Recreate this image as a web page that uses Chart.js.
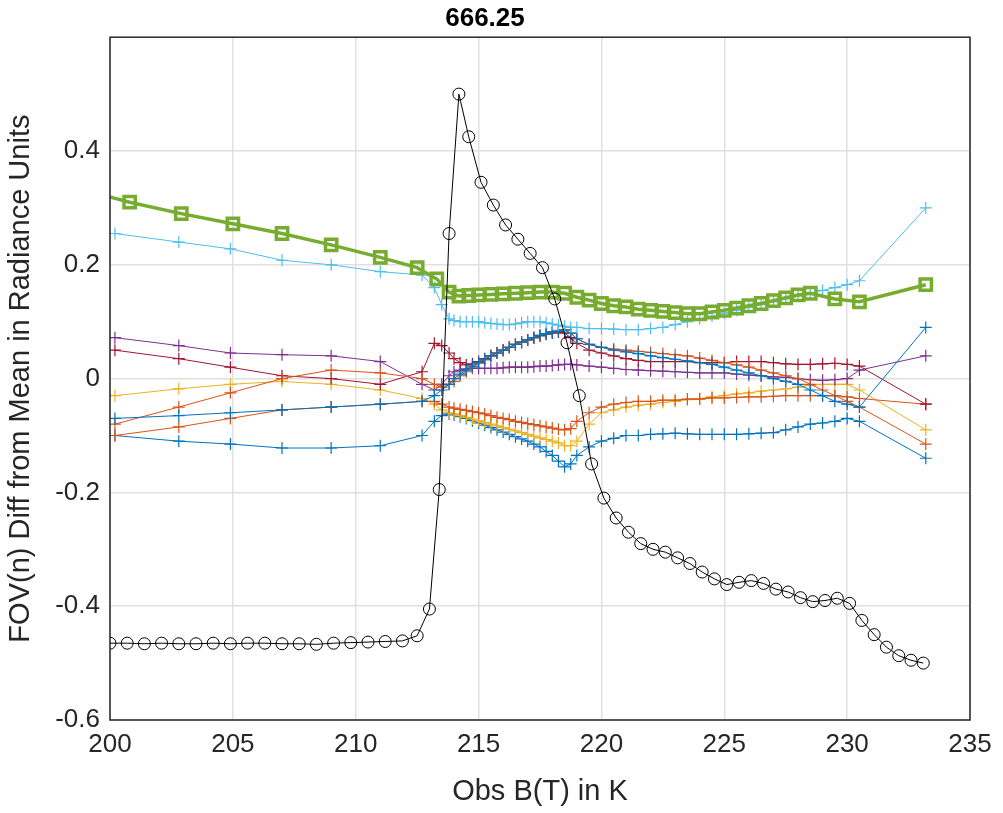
<!DOCTYPE html>
<html>
<head>
<meta charset="utf-8">
<script src="https://cdn.jsdelivr.net/npm/chart.js@4"></script>
<style>
  body { margin: 0; background: #fff; }
  #wrap { width: 1003px; height: 813px; }
</style>
</head>
<body>
<div id="wrap"><canvas id="chart"></canvas></div>
<script>
const xTicks = [200, 205, 210, 215, 220, 225, 230, 235];
const yTicks = [-0.6, -0.4, -0.2, 0, 0.2, 0.4];

// shared x positions of the "+" series
const fovX = [200.2, 202.8, 204.9, 207, 209, 211, 212.7, 213.2, 213.5, 213.8,
  214.0, 214.25, 214.5, 214.75, 215, 215.25, 215.5, 215.75, 216, 216.25, 216.5, 216.75, 217, 217.25, 217.5, 217.75, 218, 218.25, 218.5,
  218.75, 219, 219.5,
  220, 220.5, 221, 221.5, 222, 222.5, 223, 223.5, 224, 224.5, 225, 225.5, 226, 226.5, 227, 227.5, 228, 228.5, 229, 229.5, 230, 230.5,
  233.2];

const lightBlue = [0.255, 0.24, 0.228, 0.208, 0.2, 0.188, 0.182, 0.16, 0.13, 0.105,
  0.102, 0.1, 0.1, 0.1, 0.1, 0.098, 0.097, 0.096, 0.095, 0.095, 0.096, 0.098, 0.1, 0.1, 0.1, 0.098, 0.096, 0.094, 0.092,
  0.09, 0.09, 0.088,
  0.088, 0.087, 0.086, 0.086, 0.088, 0.09, 0.095, 0.1, 0.105, 0.11, 0.115, 0.12, 0.125, 0.13, 0.135, 0.14, 0.145, 0.15, 0.155, 0.16, 0.165, 0.172,
  0.30];
const blueUp = [-0.07, -0.065, -0.06, -0.055, -0.05, -0.045, -0.04, -0.03, -0.02, -0.01,
  0.0, 0.008, 0.015, 0.022, 0.028, 0.034, 0.04, 0.045, 0.05, 0.055, 0.06, 0.064, 0.068, 0.072, 0.076, 0.079, 0.082, 0.083, 0.085,
  0.08, 0.07, 0.06,
  0.055, 0.05, 0.047, 0.044, 0.04, 0.037, 0.034, 0.031, 0.028, 0.025, 0.02, 0.015, 0.01, 0.005, 0, -0.005, -0.01, -0.02, -0.03, -0.04, -0.045, -0.05,
  0.09];
const orangeUp = [-0.08, -0.05, -0.025, 0.0, 0.015, 0.01, 0.0, -0.01, -0.015, -0.01,
  -0.005, 0.005, 0.012, 0.02, 0.027, 0.033, 0.04, 0.045, 0.05, 0.055, 0.06, 0.064, 0.068, 0.072, 0.076, 0.079, 0.082, 0.085, 0.086,
  0.08, 0.07, 0.06,
  0.055, 0.052, 0.05, 0.048, 0.046, 0.044, 0.042, 0.04, 0.036, 0.032, 0.028, 0.024, 0.02, 0.015, 0.01, 0.005, 0, -0.01, -0.02, -0.03, -0.04, -0.05,
  -0.115];
const darkRed = [0.05, 0.035, 0.02, 0.005, 0.0, -0.01, 0.012, 0.062, 0.058, 0.045,
  0.035, 0.028, 0.024, 0.026, 0.03, 0.035, 0.04, 0.045, 0.05, 0.055, 0.06, 0.064, 0.068, 0.072, 0.075, 0.078, 0.08, 0.082, 0.08,
  0.072, 0.062, 0.05,
  0.045, 0.04, 0.035, 0.032, 0.03, 0.03, 0.03, 0.03, 0.028, 0.028, 0.028, 0.03, 0.03, 0.03, 0.028, 0.026, 0.025, 0.025, 0.026, 0.027, 0.025, 0.022,
  -0.045];
const purple = [0.072, 0.058, 0.045, 0.042, 0.04, 0.03, -0.01, -0.02, -0.01, 0.005,
  0.012, 0.015, 0.017, 0.018, 0.018, 0.018, 0.018, 0.018, 0.019, 0.02, 0.02, 0.02, 0.02, 0.021, 0.022, 0.022, 0.023, 0.024, 0.025,
  0.025, 0.024, 0.022,
  0.02, 0.018, 0.016, 0.015, 0.014, 0.013, 0.012, 0.011, 0.01, 0.01, 0.01, 0.008, 0.006, 0.005, 0.003, 0.002, 0, -0.002, -0.003, -0.002, 0, 0.015,
  0.04];
const orangeLow = [-0.1, -0.085, -0.07, -0.055, -0.05, -0.045, -0.04, -0.04, -0.045, -0.05,
  -0.052, -0.054, -0.056, -0.058, -0.06, -0.062, -0.065, -0.068, -0.07, -0.072, -0.075, -0.077, -0.079, -0.081, -0.083, -0.085, -0.087, -0.089, -0.09,
  -0.088, -0.075, -0.06,
  -0.05, -0.045, -0.042, -0.04, -0.04, -0.038, -0.038, -0.036, -0.036, -0.034, -0.034, -0.033, -0.032, -0.032, -0.031, -0.03, -0.03, -0.03, -0.03, -0.03, -0.032, -0.035,
  -0.045];
const yellow = [-0.03, -0.018, -0.01, -0.005, -0.01, -0.02, -0.035, -0.045, -0.055, -0.06,
  -0.062, -0.065, -0.068, -0.071, -0.074, -0.077, -0.08, -0.083, -0.086, -0.089, -0.092, -0.095, -0.098, -0.101, -0.104, -0.107, -0.11, -0.113, -0.118,
  -0.118, -0.11, -0.08,
  -0.06, -0.055, -0.05, -0.047, -0.045, -0.042, -0.04, -0.037, -0.035, -0.032, -0.03, -0.027, -0.025, -0.022, -0.02, -0.018, -0.015, -0.012, -0.01, -0.01, -0.01, -0.02,
  -0.09];
const blueLow = [-0.1, -0.11, -0.115, -0.122, -0.122, -0.118, -0.1, -0.075, -0.065, -0.062,
  -0.064, -0.067, -0.07, -0.074, -0.078, -0.082, -0.086, -0.09, -0.094, -0.098, -0.102, -0.106, -0.11, -0.115, -0.12, -0.128, -0.135, -0.145, -0.155,
  -0.15, -0.135, -0.12,
  -0.11, -0.105, -0.1, -0.1, -0.098, -0.097, -0.096, -0.097, -0.098, -0.098, -0.098, -0.098, -0.097, -0.096, -0.095, -0.09, -0.085, -0.08, -0.078, -0.075, -0.07, -0.075,
  -0.14];

// thick green curve (squares)
const greenX = [199.5, 200.8, 202.9, 205, 207, 209, 211, 212.5, 213.3, 213.8,
  214.2, 214.6, 215, 215.5, 216, 216.5, 217, 217.5, 218, 218.5, 219, 219.5, 220, 220.5, 221, 221.5, 222, 222.5, 223, 223.5, 224,
  224.5, 225, 225.5, 226, 226.5, 227, 227.5, 228, 228.5, 229.5, 230.5, 233.2];
const greenY = [0.325, 0.31, 0.29, 0.272, 0.255, 0.235, 0.213, 0.195, 0.175, 0.152,
  0.145, 0.146, 0.147, 0.148, 0.149, 0.15, 0.151, 0.152, 0.152, 0.15, 0.143, 0.138, 0.132, 0.128, 0.126, 0.122, 0.12, 0.118, 0.116, 0.114, 0.114,
  0.117, 0.12, 0.124, 0.128, 0.132, 0.137, 0.142, 0.147, 0.15, 0.14, 0.135, 0.165];

// black curve (circles)
const blackX = [200, 200.7, 201.4, 202.1, 202.8, 203.5, 204.2, 204.9, 205.6, 206.3, 207, 207.7, 208.4, 209.1, 209.8, 210.5, 211.2, 211.9, 212.5,
  213.0, 213.4, 213.8, 214.2, 214.6, 215.1, 215.6, 216.1, 216.6, 217.1, 217.6, 218.1, 218.6, 219.1, 219.6, 220.1,
  220.6, 221.1, 221.6, 222.1, 222.6, 223.1, 223.6, 224.1, 224.6, 225.1, 225.6, 226.1, 226.6, 227.1, 227.6, 228.1, 228.6, 229.1, 229.6, 230.1,
  230.6, 231.1, 231.6, 232.1, 232.6, 233.1];
const blackY = [-0.465, -0.465, -0.466, -0.465, -0.466, -0.466, -0.465, -0.466, -0.465, -0.465, -0.466, -0.466, -0.467, -0.465, -0.464, -0.463, -0.462, -0.461, -0.452,
  -0.405, -0.195, 0.255, 0.5, 0.425, 0.345, 0.305, 0.27, 0.245, 0.22, 0.195, 0.14, 0.063, -0.03, -0.15, -0.21,
  -0.245, -0.27, -0.29, -0.3, -0.305, -0.315, -0.325, -0.34, -0.352, -0.362, -0.358, -0.355, -0.36, -0.37, -0.375, -0.385, -0.392, -0.39, -0.386, -0.395,
  -0.425, -0.45, -0.472, -0.487, -0.495, -0.5];

function pts(xs, ys) {
  return ys.map((y, i) => ({ x: xs[i], y: y }));
}

function fovSet(ys, color) {
  return {
    data: pts(fovX, ys),
    borderColor: color,
    backgroundColor: color,
    borderWidth: 1,
    pointStyle: "cross",
    pointRadius: 6,
    pointBorderWidth: 1.2,
    showLine: true,
    order: 5
  };
}

const frame = {
  id: "frame",
  afterDraw(chart) {
    const a = chart.chartArea;
    const c = chart.ctx;
    c.save();
    c.strokeStyle = "#262626";
    c.lineWidth = 1.5;
    c.strokeRect(a.left, a.top, a.right - a.left, a.bottom - a.top);
    c.restore();
  }
};

const ctx = document.getElementById("chart").getContext("2d");
new Chart(ctx, {
  type: "scatter",
  data: {
    datasets: [
      {
        data: pts(blackX, blackY),
        borderColor: "#000",
        backgroundColor: "rgba(0,0,0,0)",
        borderWidth: 1,
        pointStyle: "circle",
        pointRadius: 6,
        pointBorderWidth: 1,
        showLine: true,
        order: 1
      },
      {
        data: pts(greenX, greenY),
        borderColor: "#77AC30",
        backgroundColor: "rgba(0,0,0,0)",
        borderWidth: 3.5,
        pointStyle: "rect",
        pointRadius: 8,
        pointBorderWidth: 3.5,
        showLine: true,
        order: 2
      },
      fovSet(lightBlue, "#4DBEEE"),
      fovSet(blueUp, "#0072BD"),
      fovSet(orangeUp, "#D95319"),
      fovSet(darkRed, "#A2142F"),
      fovSet(purple, "#7E2F8E"),
      fovSet(orangeLow, "#D95319"),
      fovSet(yellow, "#EDB120"),
      fovSet(blueLow, "#0072BD")
    ]
  },
  options: {
    responsive: true,
    maintainAspectRatio: false,
    animation: false,
    layout: { padding: { right: 33 } },
    plugins: {
      legend: { display: false },
      tooltip: { enabled: false },
      title: {
        display: true,
        text: "666.25",
        color: "#000",
        font: { family: "Liberation Sans", size: 26, weight: "bold" },
        padding: { top: 3, bottom: 3 }
      }
    },
    scales: {
      x: {
        type: "linear",
        min: 200,
        max: 235,
        afterBuildTicks: s => { s.ticks = xTicks.map(v => ({ value: v })); },
        afterFit: s => { s.height = 93; },
        grid: { color: "#e0e0e0", lineWidth: 1.5, drawTicks: false },
        border: { display: false },
        ticks: { color: "#262626", font: { family: "Liberation Sans", size: 26 }, padding: 9 },
        title: { display: true, text: "Obs B(T) in K", color: "#262626", font: { family: "Liberation Sans", size: 29 }, padding: { top: 6 } }
      },
      y: {
        min: -0.6,
        max: 0.6,
        afterBuildTicks: s => { s.ticks = yTicks.map(v => ({ value: v })); },
        afterFit: s => { s.width = 110; },
        grid: { color: "#e0e0e0", lineWidth: 1.5, drawTicks: false },
        border: { display: false },
        ticks: {
          color: "#262626",
          font: { family: "Liberation Sans", size: 26 },
          padding: 10,
          callback: v => (Math.abs(v) < 1e-9 ? "0" : String(+v.toFixed(1)))
        },
        title: { display: true, text: "FOV(n) Diff from Mean in Radiance Units", color: "#262626", font: { family: "Liberation Sans", size: 29 }, padding: { bottom: 0 } }
      }
    }
  },
  plugins: [frame]
});
</script>
</body>
</html>
